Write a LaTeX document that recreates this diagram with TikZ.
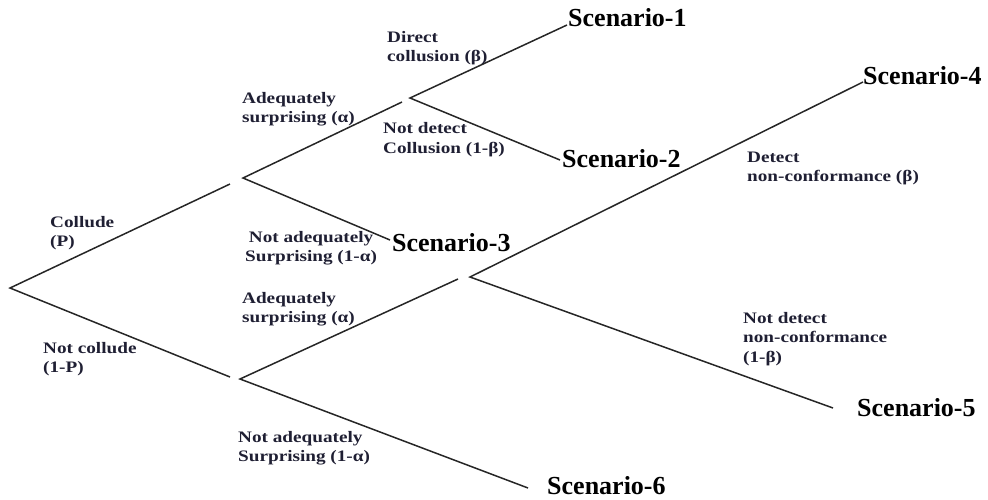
\documentclass[tikz,border=0pt]{standalone}
\usepackage{fontspec}
\setmainfont{Liberation Serif}
\newfontfamily\labfont{Liberation Serif}[FakeStretch=1.2]
\definecolor{labink}{rgb}{0.12,0.12,0.2}
\begin{document}
\begin{tikzpicture}[x=1pt,y=-1pt,
  branch/.style={line width=1.5pt, draw=black!85},
  scen/.style={font=\bfseries\fontsize{26}{30}\selectfont, inner sep=0pt, anchor=base west},
  lab/.style={font=\labfont\bfseries\fontsize{16}{19.5}\selectfont, text=labink,
              inner sep=0pt, anchor=base west, align=left}]
\useasboundingbox (0,0) rectangle (988,499);

% decision points
\coordinate (R) at (10,288);
\coordinate (A) at (243,178);
\coordinate (B) at (410,98);
\coordinate (C) at (240,379);
\coordinate (D) at (470,277);

% ends of the incoming branches (they stop just short of the next fork)
\coordinate (Ain) at (230,184);
\coordinate (Cin) at (230,377);
\coordinate (Bin) at (402,102);
\coordinate (Din) at (458,279);

% ends of the branches leading to the outcomes
\coordinate (e1) at (567,25);
\coordinate (e2) at (560,160);
\coordinate (e3) at (390,240);
\coordinate (e4) at (863,82);
\coordinate (e5) at (833,408);
\coordinate (e6) at (528,488);

% branches
\draw[branch] (Ain) -- (R) -- (Cin);
\draw[branch] (Bin) -- (A) -- (e3);
\draw[branch] (e1) -- (B) -- (e2);
\draw[branch] (Din) -- (C) -- (e6);
\draw[branch] (e4) -- (D) -- (e5);

% outcomes
\node[scen] (s1) at (568,26) {Scenario-1};
\node[scen] (s2) at (562,167) {Scenario-2};
\node[scen] (s3) at (392,251) {Scenario-3};
\node[scen] (s4) at (863,84) {Scenario-4};
\node[scen] (s5) at (857,416) {Scenario-5};
\node[scen] (s6) at (547,494) {Scenario-6};

% branch labels (anchored at the baseline of their last line)
\node[lab] (l1) at (50,246.5) {Collude\\(P)};
\node[lab] (l2) at (43,372.5) {Not collude\\(1-P)};
\node[lab] (l3) at (242,122.5) {Adequately\\surprising (α)};
\node[lab, align=center] (l4) at (245,261.5) {Not adequately\\Surprising (1-α)};
\node[lab] (l5) at (387,61.5) {Direct\\collusion (β)};
\node[lab] (l6) at (383,153) {Not detect\\Collusion (1-β)};
\node[lab] (l7) at (242,322.5) {Adequately\\surprising (α)};
\node[lab] (l8) at (238,461.5) {Not adequately\\Surprising (1-α)};
\node[lab] (l9) at (747,181.5) {Detect\\non-conformance (β)};
\node[lab] (l10) at (743,362) {Not detect\\non-conformance\\(1-β)};
\end{tikzpicture}
\end{document}
